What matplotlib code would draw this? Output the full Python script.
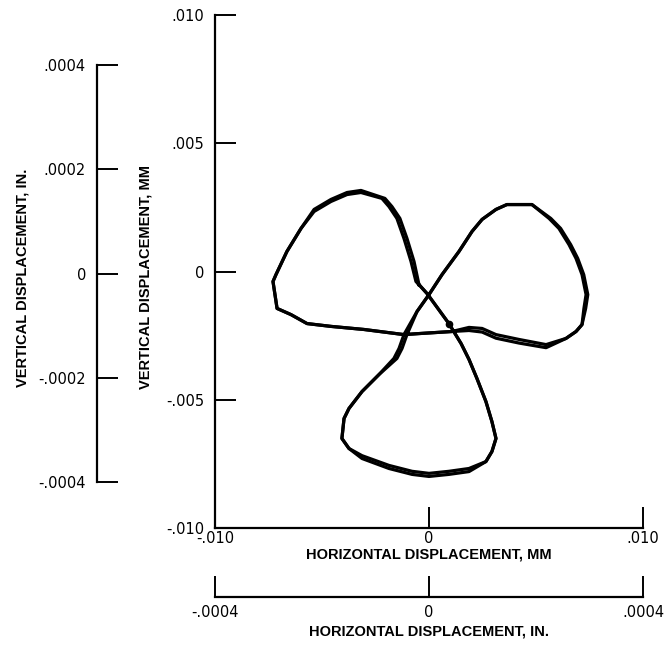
import matplotlib
matplotlib.use("Agg")
import matplotlib.pyplot as plt

# Orbit of the shaft centre, horizontal / vertical displacement in mm
# first revolution
orbit_x_mm = [
    -0.00047, -0.00009, 0.00093, 0.00150, 0.00187, 0.00224, 0.00266, 0.00294,
    0.00313, 0.00294, 0.00266, 0.00187, 0.00093, 0.00000, -0.00079, -0.00187,
    -0.00313, -0.00374, -0.00407, -0.00397, -0.00374, -0.00313, -0.00234, -0.00150,
    -0.00126, -0.00103, -0.00056, 0.00000, 0.00061, 0.00140, 0.00201, 0.00248,
    0.00313, 0.00364, 0.00481, 0.00561, 0.00607, 0.00654, 0.00687, 0.00715,
    0.00734, 0.00724, 0.00715, 0.00687, 0.00640, 0.00547, 0.00421, 0.00313,
    0.00248, 0.00187, 0.00107, -0.00047, -0.00117, -0.00304, -0.00458, -0.00570,
    -0.00645, -0.00710, -0.00729, -0.00715, -0.00664, -0.00598, -0.00537, -0.00458,
    -0.00383, -0.00318, -0.00220, -0.00187, -0.00150, -0.00117, -0.00084, -0.00061,
    -0.00047,
]
orbit_y_mm = [
    -0.00051, -0.00086, -0.00203, -0.00281, -0.00343, -0.00417, -0.00507, -0.00585,
    -0.00651, -0.00702, -0.00741, -0.00780, -0.00791, -0.00799, -0.00791, -0.00768,
    -0.00729, -0.00690, -0.00651, -0.00573, -0.00534, -0.00468, -0.00402, -0.00339,
    -0.00300, -0.00246, -0.00156, -0.00090, -0.00012, 0.00078, 0.00156, 0.00203,
    0.00242, 0.00261, 0.00261, 0.00207, 0.00168, 0.00105, 0.00051, -0.00012,
    -0.00090, -0.00144, -0.00207, -0.00234, -0.00261, -0.00285, -0.00265, -0.00246,
    -0.00222, -0.00218, -0.00234, -0.00242, -0.00246, -0.00226, -0.00214, -0.00203,
    -0.00168, -0.00144, -0.00039, -0.00012, 0.00078, 0.00168, 0.00234, 0.00273,
    0.00300, 0.00308, 0.00285, 0.00253, 0.00207, 0.00129, 0.00039, -0.00039,
    -0.00051,
]
# second revolution
orbit2_x_mm = [
    -0.00047, -0.00009, 0.00093, 0.00150, 0.00187, 0.00224, 0.00266, 0.00294,
    0.00313, 0.00294, 0.00266, 0.00187, 0.00093, 0.00000, -0.00079, -0.00187,
    -0.00313, -0.00374, -0.00407, -0.00397, -0.00374, -0.00313, -0.00234, -0.00164,
    -0.00140, -0.00117, -0.00056, 0.00000, 0.00061, 0.00140, 0.00201, 0.00248,
    0.00313, 0.00364, 0.00481, 0.00569, 0.00615, 0.00662, 0.00695, 0.00723,
    0.00742, 0.00732, 0.00715, 0.00687, 0.00640, 0.00547, 0.00421, 0.00313,
    0.00248, 0.00187, 0.00107, -0.00047, -0.00117, -0.00304, -0.00458, -0.00570,
    -0.00645, -0.00710, -0.00729, -0.00715, -0.00664, -0.00598, -0.00537, -0.00458,
    -0.00383, -0.00318, -0.00206, -0.00173, -0.00136, -0.00103, -0.00070, -0.00050,
    -0.00047,
]
orbit2_y_mm = [
    -0.00051, -0.00086, -0.00203, -0.00281, -0.00343, -0.00417, -0.00507, -0.00585,
    -0.00651, -0.00702, -0.00741, -0.00768, -0.00779, -0.00787, -0.00779, -0.00756,
    -0.00718, -0.00690, -0.00651, -0.00573, -0.00534, -0.00468, -0.00402, -0.00339,
    -0.00300, -0.00246, -0.00156, -0.00090, -0.00012, 0.00078, 0.00156, 0.00203,
    0.00242, 0.00261, 0.00261, 0.00207, 0.00168, 0.00105, 0.00051, -0.00012,
    -0.00090, -0.00144, -0.00207, -0.00234, -0.00261, -0.00297, -0.00279, -0.00260,
    -0.00236, -0.00230, -0.00234, -0.00242, -0.00246, -0.00226, -0.00214, -0.00203,
    -0.00168, -0.00144, -0.00039, -0.00012, 0.00078, 0.00168, 0.00242, 0.00281,
    0.00308, 0.00316, 0.00285, 0.00253, 0.00207, 0.00129, 0.00039, -0.00039,
    -0.00051,
]
start_index = 2

mm_ticks = [-0.010, -0.005, 0.0, 0.005, 0.010]
mm_tick_labels = ["-.010", "-.005", "0", ".005", ".010"]
mm_x_ticks = [-0.010, 0.0, 0.010]
mm_x_tick_labels = ["-.010", "0", ".010"]
in_y_ticks = [-0.0004, -0.0002, 0.0, 0.0002, 0.0004]
in_y_tick_labels = ["-.0004", "-.0002", "0", ".0002", ".0004"]
in_x_ticks = [-0.0004, 0.0, 0.0004]
in_x_tick_labels = ["-.0004", "0", ".0004"]

W, H = 670, 647
fig = plt.figure(figsize=(W / 100, H / 100), dpi=100)

tick_font = dict(family="DejaVu Sans", size=10.5)
label_font = dict(family=["Liberation Sans Narrow", "Liberation Sans"],
                  size=10.5, weight="bold")


def frac(x0, y0, x1, y1):
    """pixel box (left, top, right, bottom) -> figure fraction rect"""
    return [x0 / W, 1 - y1 / H, (x1 - x0) / W, (y1 - y0) / H]


# main plot in millimetres
ax = fig.add_axes(frac(215, 15, 643, 528))
for xs, ys in ((orbit_x_mm, orbit_y_mm), (orbit2_x_mm, orbit2_y_mm)):
    ax.plot(xs, ys, color="black", lw=2.3, solid_joinstyle="round")
ax.plot(orbit_x_mm[start_index], orbit_y_mm[start_index], "o", color="black", ms=4.5)
ax.set_xlim(-0.010, 0.010)
ax.set_ylim(-0.010, 0.010)
for s in ("top", "right"):
    ax.spines[s].set_visible(False)
for s in ("left", "bottom"):
    ax.spines[s].set_linewidth(1.6)
ax.set_yticks(mm_ticks)
ax.set_yticklabels(mm_tick_labels, **tick_font)
ax.set_xticks(mm_x_ticks)
ax.set_xticklabels(mm_x_tick_labels, **tick_font)
ax.tick_params(axis="y", direction="in", length=15, width=1.4, pad=8)
ax.tick_params(axis="x", direction="in", length=15, width=1.4, pad=2)
ax.set_xlabel("HORIZONTAL DISPLACEMENT, MM", labelpad=1, **label_font)
ax.set_ylabel("VERTICAL DISPLACEMENT, MM", **label_font)
ax.yaxis.set_label_coords((145 - 215) / 428, 0.49)
ax.yaxis.label.set_va("center")

# vertical scale in inches
ax_in = fig.add_axes(frac(97, 65, 98, 482))
ax_in.set_ylim(-0.0004, 0.0004)
ax_in.set_xticks([])
for s in ("top", "right", "bottom"):
    ax_in.spines[s].set_visible(False)
ax_in.spines["left"].set_linewidth(1.6)
ax_in.patch.set_visible(False)
ax_in.set_yticks(in_y_ticks)
ax_in.set_yticklabels(in_y_tick_labels, **tick_font)
ax_in.tick_params(axis="y", direction="in", length=15, width=1.4, pad=8)
ax_in.set_ylabel("VERTICAL DISPLACEMENT, IN.", **label_font)
ax_in.yaxis.set_label_coords(-75, 0.49)
ax_in.yaxis.label.set_va("center")

# horizontal scale in inches
ax_hin = fig.add_axes(frac(215, 596, 643, 597))
ax_hin.set_xlim(-0.0004, 0.0004)
ax_hin.set_yticks([])
for s in ("top", "right", "left"):
    ax_hin.spines[s].set_visible(False)
ax_hin.spines["bottom"].set_linewidth(1.6)
ax_hin.patch.set_visible(False)
ax_hin.set_xticks(in_x_ticks)
ax_hin.set_xticklabels(in_x_tick_labels, **tick_font)
ax_hin.tick_params(axis="x", direction="in", length=15, width=1.4, pad=6)
ax_hin.set_xlabel("HORIZONTAL DISPLACEMENT, IN.", labelpad=3, **label_font)

fig.savefig("out.png", dpi=100)
